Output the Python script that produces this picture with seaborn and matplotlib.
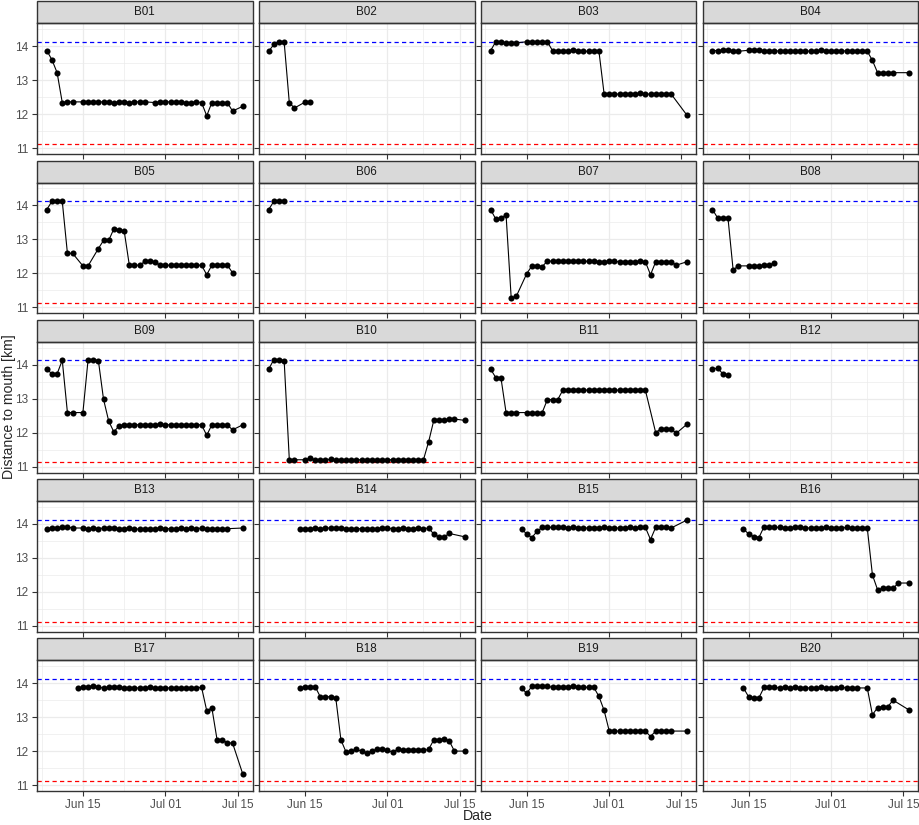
import matplotlib
matplotlib.use("Agg")
import matplotlib.dates as mdates
import matplotlib.pyplot as plt
import numpy as np
import pandas as pd
import seaborn as sns
from matplotlib.patches import Rectangle

N = np.nan

FIRST_DAY = "2019-06-08"
N_DAYS = 39
UPPER = 14.13   # blue dashed reference
LOWER = 11.12   # red dashed reference

buoys = ["B01", "B02", "B03", "B04", "B05", "B06", "B07", "B08", "B09", "B10",
         "B11", "B12", "B13", "B14", "B15", "B16", "B17", "B18", "B19", "B20"]
# first day (offset from Jun 08) of each buoy's record
start_day = [0, 0, 0, 0, 0, 0, 0, 0, 0, 0, 0, 0, 0, 6, 6, 6, 6, 6, 6, 6]

B01 = [13.87, 13.60, 13.22, 12.34, 12.36, 12.36, N, 12.36, 12.36, 12.36, 12.36, 12.36,
       12.35, 12.34, 12.36, 12.36, 12.34, 12.36, 12.36, 12.36, N, 12.34, 12.36, 12.36,
       12.36, 12.36, 12.36, 12.34, 12.34, 12.36, 12.34, 11.95, 12.34, 12.34, 12.34, 12.34,
       12.09, N, 12.23]
B02 = [13.85, 14.05, 14.12, 14.12, 12.33, 12.18, N, 12.35, 12.35]
B03 = [13.87, 14.13, 14.12, 14.10, 14.10, 14.10, N, 14.13, 14.13, 14.13, 14.13, 14.13,
       13.87, 13.87, 13.86, 13.86, 13.88, 13.87, 13.85, 13.85, 13.85, 13.85,
       12.60, 12.59, 12.59, 12.59, 12.59, 12.59, 12.60, 12.61, 12.59, 12.59, 12.60, 12.59,
       12.59, 12.59, N, N, 11.98]
B04 = [13.87, 13.87, 13.88, 13.88, 13.87, 13.85, N, 13.88, 13.88, 13.88, 13.87, 13.86,
       13.86, 13.86, 13.86, 13.86, 13.86, 13.86, 13.85, 13.86, 13.85, 13.88, 13.87, 13.86,
       13.85, 13.86, 13.86, 13.86, 13.86, 13.86, 13.85, 13.58, 13.22, 13.22, 13.22, 13.22,
       N, N, 13.22]
B05 = [13.88, 14.12, 14.12, 14.12, 12.59, 12.59, N, 12.22, 12.22, N, 12.73, 12.97, 12.97,
       13.31, 13.27, 13.25, 12.24, 12.24, 12.24, 12.35, 12.35, 12.32, 12.24, 12.24, 12.24,
       12.24, 12.24, 12.24, 12.24, 12.24, 12.24, 11.96, 12.24, 12.24, 12.24, 12.24, 12.02]
B06 = [13.88, 14.12, 14.12, 14.12]
B07 = [13.88, 13.60, 13.63, 13.72, 11.26, 11.33, N, 11.99, 12.22, 12.22, 12.20,
       12.36, 12.36, 12.37, 12.37, 12.37, 12.35, 12.36, 12.35, 12.36, 12.35, 12.34, 12.34,
       12.36, 12.35, 12.34, 12.34, 12.34, 12.34, 12.36, 12.34, 11.96, 12.34, 12.34, 12.34,
       12.34, 12.24, N, 12.34]
B08 = [13.88, 13.63, 13.63, 13.63, 12.10, 12.22, N, 12.22, 12.22, 12.22, 12.24, 12.24, 12.31]
B09 = [13.87, 13.73, 13.73, 14.13, 12.59, 12.59, N, 12.59, 14.14, 14.14, 14.12, 12.98,
       12.34, 12.02, 12.20, 12.23, 12.23, 12.23, 12.23, 12.23, 12.23, 12.23, 12.25, 12.23,
       12.23, 12.23, 12.23, 12.23, 12.23, 12.23, 12.23, 11.92, 12.23, 12.23, 12.23, 12.23,
       12.08, N, 12.23]
B10 = [13.87, 14.15, 14.15, 14.12, 11.20, 11.20, N, 11.20, 11.24, 11.20, 11.20, 11.20,
       11.22, 11.20, 11.20, 11.20, 11.20, 11.20, 11.20, 11.20, 11.20, 11.20, 11.20, 11.20,
       11.20, 11.20, 11.20, 11.20, 11.20, 11.20, 11.20, 11.73, 12.36, 12.36, 12.36, 12.39,
       12.40, N, 12.36]
B11 = [13.87, 13.62, 13.62, 12.59, 12.59, 12.59, N, 12.59, 12.59, 12.59, 12.59,
       12.97, 12.97, 12.97, 13.25, 13.25, 13.25, 13.25, 13.25, 13.25, 13.25, 13.25, 13.25,
       13.25, 13.25, 13.25, 13.25, 13.25, 13.25, 13.25, 13.25, N, 12.00, 12.11, 12.11,
       12.11, 11.98, N, 12.24]
B12 = [13.87, 13.90, 13.73, 13.70]
B13 = [13.86, 13.88, 13.88, 13.91, 13.91, 13.88, N, 13.88, 13.85, 13.88, 13.86, 13.88,
       13.88, 13.88, 13.86, 13.86, 13.88, 13.85, 13.85, 13.86, 13.86, 13.86, 13.88, 13.86,
       13.86, 13.86, 13.88, 13.86, 13.88, 13.86, 13.88, 13.86, 13.86, 13.86, 13.86, 13.86,
       N, N, 13.88]
B14 = [13.86, 13.86, 13.86, 13.88, 13.86, 13.88, 13.88, 13.88, 13.88, 13.86, 13.86, 13.86,
       13.86, 13.86, 13.86, 13.86, 13.88, 13.88, 13.86, 13.86, 13.88, 13.86, 13.86, 13.88,
       13.86, 13.88, 13.70, 13.62, 13.62, 13.72, N, N, 13.62]
B15 = [13.86, 13.70, 13.60, 13.78, 13.90, 13.90, 13.90, 13.90, 13.90, 13.88, 13.90, 13.88,
       13.88, 13.88, 13.88, 13.88, 13.90, 13.88, 13.88, 13.88, 13.88, 13.90, 13.88, 13.90,
       13.90, 13.54, 13.90, 13.90, 13.90, 13.88, N, N, 14.11]
B16 = [13.86, 13.70, 13.63, 13.60, 13.92, 13.90, 13.90, 13.90, 13.88, 13.88, 13.90, 13.90,
       13.88, 13.88, 13.88, 13.88, 13.90, 13.88, 13.88, 13.88, 13.90, 13.88, 13.88, 13.88,
       13.88, 12.50, 12.06, 12.10, 12.10, 12.10, 12.26, N, 12.26]
B17 = [13.86, 13.88, 13.88, 13.93, 13.88, 13.86, 13.88, 13.88, 13.88, 13.86, 13.86, 13.86,
       13.86, 13.86, 13.88, 13.86, 13.86, 13.86, 13.86, 13.86, 13.86, 13.86, 13.86, 13.86,
       13.88, 13.19, 13.27, 12.34, 12.34, 12.24, 12.24, N, 11.32]
B18 = [13.86, 13.88, 13.88, 13.90, 13.60, 13.60, 13.60, 13.57, 12.33, 11.97, 12.00, 12.05,
       12.00, 11.95, 12.00, 12.05, 12.05, 12.02, 11.97, 12.05, 12.02, 12.02, 12.02, 12.02,
       12.02, 12.05, 12.33, 12.33, 12.36, 12.30, 12.00, N, 12.00]
B19 = [13.86, 13.70, 13.91, 13.93, 13.91, 13.91, 13.88, 13.88, 13.88, 13.88, 13.91, 13.88,
       13.88, 13.88, 13.88, 13.61, 13.20, 12.59, 12.59, 12.59, 12.59, 12.59, 12.59, 12.59,
       12.59, 12.43, 12.59, 12.59, 12.59, 12.59, N, N, 12.59]
B20 = [13.86, 13.60, 13.57, 13.57, 13.88, 13.88, 13.88, 13.86, 13.88, 13.86, 13.88, 13.86,
       13.86, 13.86, 13.86, 13.88, 13.86, 13.86, 13.86, 13.88, 13.86, 13.86, 13.86, N,
       13.86, 13.07, 13.28, 13.31, 13.31, 13.50, N, N, 13.22]

series = [B01, B02, B03, B04, B05, B06, B07, B08, B09, B10,
          B11, B12, B13, B14, B15, B16, B17, B18, B19, B20]

days = pd.date_range(FIRST_DAY, periods=N_DAYS, freq="D")
rows = []
for name, s0, vals in zip(buoys, start_day, series):
    for i, v in enumerate(vals):
        rows.append((name, days[s0 + i], v))
df = pd.DataFrame(rows, columns=["buoy", "date", "dist"]).dropna()

sns.set_theme(style="white")
plt.rcParams["font.family"] = ["Liberation Sans", "DejaVu Sans"]

g = sns.FacetGrid(df, col="buoy", col_order=buoys, col_wrap=4, sharex=True,
                  sharey=True, despine=False, height=1.31, aspect=1.65)
g.map_dataframe(sns.lineplot, x="date", y="dist", color="black", lw=0.8,
                marker="o", markersize=4.4, markeredgewidth=0, estimator=None)
g.set_titles("")
g.set_axis_labels("", "")

fig = g.figure
fig.set_size_inches(9.2, 8.25)
fig.subplots_adjust(left=0.0402, right=0.9982, top=0.9718, bottom=0.0412,
                    wspace=0.029, hspace=0.218)

span = days[-1] - days[0]
xlim = (days[0] - span * 0.05, days[-1] + span * 0.05)
major_x = pd.to_datetime(["2019-06-15", "2019-07-01", "2019-07-15"])
minor_x = pd.to_datetime(["2019-06-07", "2019-06-23", "2019-07-08"])

strip_h = 22 / 130.7
grey20 = "#333333"
dash = (0, (3.4, 2.6))
for k, (ax, name) in enumerate(zip(g.axes.flat, buoys)):
    ax.axhline(UPPER, color="#0000FF", ls=dash, lw=0.9, zorder=1)
    ax.axhline(LOWER, color="#FF0000", ls=dash, lw=0.9, zorder=1)
    ax.set_xlim(xlim)
    ax.set_ylim(10.825, 14.675)
    ax.set_yticks([11, 12, 13, 14])
    ax.set_yticks([11.5, 12.5, 13.5, 14.5], minor=True)
    ax.set_xticks(major_x)
    ax.set_xticks(minor_x, minor=True)
    ax.xaxis.set_major_formatter(mdates.DateFormatter("%b %d"))
    ax.set_axisbelow(True)
    ax.grid(which="major", color="#EBEBEB", lw=0.9)
    ax.grid(which="minor", color="#EBEBEB", lw=0.5)
    ax.tick_params(which="major", length=3.5, width=0.8, color=grey20,
                   labelcolor="#4D4D4D", labelsize=8.5, pad=2.5,
                   bottom=True, left=True)
    ax.tick_params(which="minor", length=0)
    ax.tick_params(labelbottom=(k >= 16), labelleft=(k % 4 == 0))
    for sp in ax.spines.values():
        sp.set_color(grey20)
        sp.set_linewidth(1.0)
    ax.add_patch(Rectangle((0, 1), 1, strip_h, transform=ax.transAxes,
                           facecolor="#D9D9D9", edgecolor=grey20, lw=1.0,
                           clip_on=False))
    ax.text(0.5, 1 + strip_h / 2, name, transform=ax.transAxes, ha="center",
            va="center", fontsize=8.4, color="#1A1A1A")

fig.text(0.519, 0.011, "Date", ha="center", va="center", fontsize=10.2)
fig.text(0.010, 0.507, "Distance to mouth [km]", ha="center", va="center",
         rotation=90, fontsize=10.2)

fig.savefig("out.png", dpi=100)
